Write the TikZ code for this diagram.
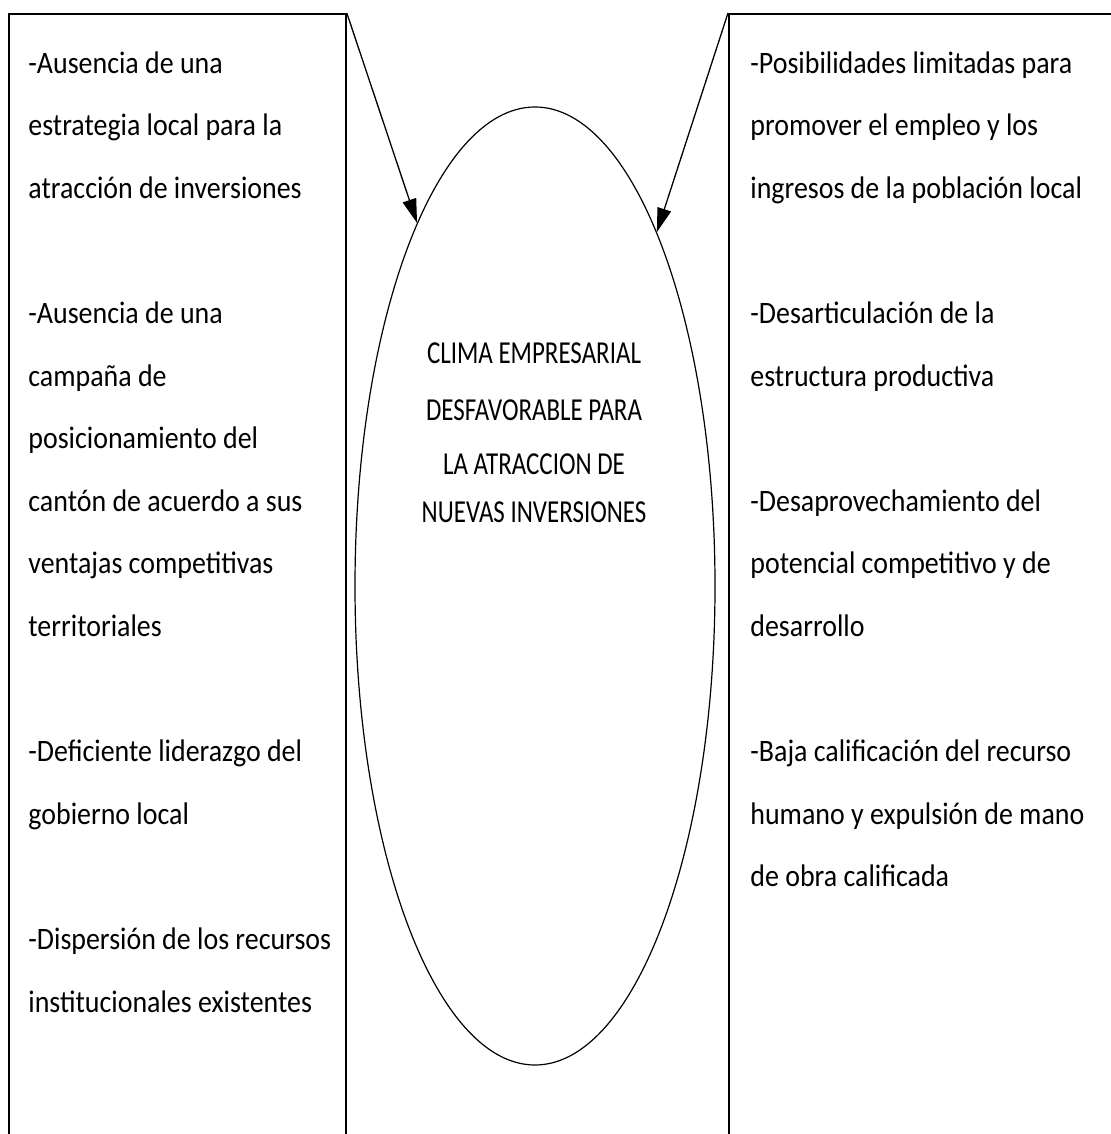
\documentclass[tikz,border=0pt]{standalone}
\usepackage{fontspec}
\setmainfont{Carlito}
\newfontfamily\ladofont[FakeStretch=0.895]{Carlito}
\newfontfamily\titfont[FakeStretch=0.78]{Carlito}
\usetikzlibrary{arrows.meta,positioning,shapes.geometric}

\begin{document}
\begin{tikzpicture}[
    x=0.5pt, y=-0.5pt,
    marco/.style={draw, line width=0.9pt, rectangle, anchor=north west, inner sep=0pt, minimum height=600pt},
    lista/.style={align=left, inner sep=0pt, font=\ladofont\fontsize{15.6pt}{31.3pt}\selectfont},
    titulo/.style={align=center, inner sep=0pt, font=\titfont\fontsize{16pt}{28.5pt}\selectfont},
    flecha/.style={-{Triangle[length=12pt, width=7pt]}, line width=0.65pt}
  ]
    \useasboundingbox[fill=white] (0,0) rectangle (1110,1134);

    \node[marco, minimum width=168.5pt] (causas) at (8,13) {};
    \node[marco, minimum width=225pt] (efectos) at (728,13) {};
    \node[draw, ellipse, line width=0.6pt, inner sep=0pt, minimum width=180pt, minimum height=479pt] (clima) at (535,586) {};

    \node[lista, below right=19pt and 10pt of causas.north west] (txtcausas) {-Ausencia de una\\ estrategia local para la\\ atracción de inversiones\\[31.3pt]
      -Ausencia de una\\ campaña de\\ posicionamiento del\\ cantón de acuerdo a sus\\ ventajas competitivas\\ territoriales\\[31.3pt]
      -Deficiente liderazgo del\\ gobierno local\\[31.3pt]
      -Dispersión de los recursos\\ institucionales existentes};
    \node[lista, below right=19pt and 11pt of efectos.north west] (txtefectos) {-Posibilidades limitadas para\\ promover el empleo y los\\ ingresos de la población local\\[31.3pt]
      -Desarticulación de la\\ estructura productiva\\[31.3pt]
      -Desaprovechamiento del\\ potencial competitivo y de\\ desarrollo\\[31.3pt]
      -Baja calificación del recurso\\ humano y expulsión de mano\\ de obra calificada};
    \node[titulo, anchor=north] (tit) at (534,342) {CLIMA EMPRESARIAL\\ DESFAVORABLE PARA\\[-1.5pt] LA ATRACCION DE\\[-4.5pt] NUEVAS INVERSIONES};

    \draw[flecha] (causas.north east) -- (clima.108);
    \draw[flecha] (efectos.north west) -- (clima.71);
\end{tikzpicture}
\end{document}
